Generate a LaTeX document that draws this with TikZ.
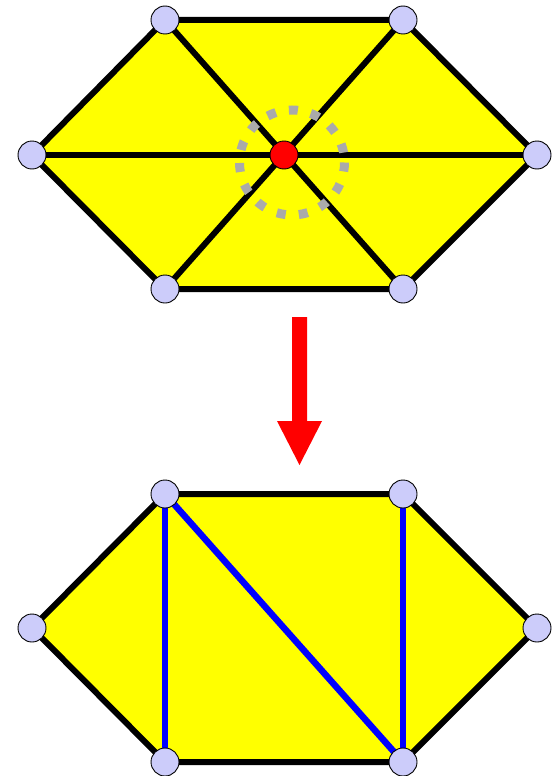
\documentclass[tikz,border=0pt]{standalone}
\definecolor{vfill}{RGB}{204,204,250}
\definecolor{hexy}{RGB}{255,255,0}
\definecolor{ringgray}{RGB}{170,170,170}
\definecolor{bl}{RGB}{0,0,255}
\tikzset{
  vert/.style={circle,draw=black,line width=0.9pt,fill=vfill,minimum size=28pt,inner sep=0pt},
  ctr/.style={circle,draw=black,line width=0.9pt,fill=red,minimum size=28pt,inner sep=0pt},
  edge/.style={line width=6pt,black},
  diag/.style={line width=6.5pt,bl},
}
\begin{document}
\begin{tikzpicture}[x=1pt,y=-1pt]
\useasboundingbox (0,0) rectangle (556,776);
% top hexagon
\coordinate (a1) at (165,20);
\coordinate (a2) at (403,20);
\coordinate (a3) at (537,155);
\coordinate (a4) at (403,289);
\coordinate (a5) at (165,289);
\coordinate (a6) at (32,155);
\coordinate (ac) at (284,155);
\coordinate (rc) at (292,162.5);
\fill[hexy] (a1)--(a2)--(a3)--(a4)--(a5)--(a6)--cycle;
\draw[edge,line join=round] (a1)--(a2)--(a3)--(a4)--(a5)--(a6)--cycle;
\draw[edge] (a1)--(a4);
\draw[edge] (a2)--(a5);
\draw[edge] (a6)--(a3);
\draw[ringgray,line width=9pt,dash pattern=on 9pt off 13.2pt] (rc) circle[radius=52.5];
\node[vert] (v1) at (a1) {};
\node[vert] (v2) at (a2) {};
\node[vert] (v3) at (a3) {};
\node[vert] (v4) at (a4) {};
\node[vert] (v5) at (a5) {};
\node[vert] (v6) at (a6) {};
\node[ctr] (vc) at (ac) {};
% arrow
\fill[red] (292,317) -- (307,317) -- (307,421) -- (322,421) -- (299.5,465) -- (277,421) -- (292,421) -- cycle;
% bottom hexagon
\coordinate (b1) at (165,494);
\coordinate (b2) at (403,494);
\coordinate (b3) at (537,628);
\coordinate (b4) at (403,762);
\coordinate (b5) at (165,762);
\coordinate (b6) at (32,628);
\fill[hexy] (b1)--(b2)--(b3)--(b4)--(b5)--(b6)--cycle;
\draw[edge,line join=round] (b1)--(b2)--(b3)--(b4)--(b5)--(b6)--cycle;
\draw[diag] (b1)--(b5);
\draw[diag] (b1)--(b4);
\draw[diag] (b2)--(b4);
\node[vert] (w1) at (b1) {};
\node[vert] (w2) at (b2) {};
\node[vert] (w3) at (b3) {};
\node[vert] (w4) at (b4) {};
\node[vert] (w5) at (b5) {};
\node[vert] (w6) at (b6) {};
\end{tikzpicture}
\end{document}
